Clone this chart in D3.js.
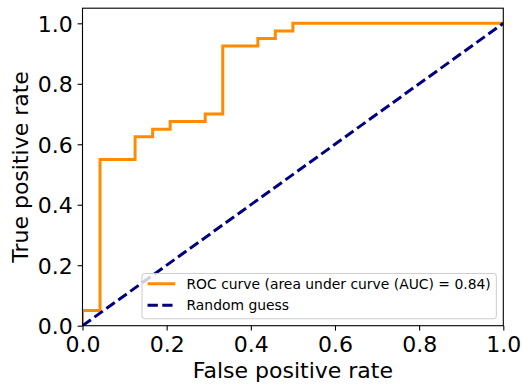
<!DOCTYPE html>
<html>
<head>
<meta charset="utf-8">
<script src="https://cdn.jsdelivr.net/npm/d3@7"></script>
<style>
  body { margin: 0; background: #fff; }
  svg { display: block; font-family: "DejaVu Sans", sans-serif; }
</style>
</head>
<body>
<svg id="chart"></svg>
<script>
// ROC curve points (step curve)
const fpr = [0, 0, 0.0417, 0.0417, 0.125, 0.125, 0.1667, 0.1667, 0.2083, 0.2083,
             0.2917, 0.2917, 0.3333, 0.3333, 0.4167, 0.4167, 0.4583, 0.4583, 0.5, 0.5, 1.0];
const tpr = [0, 0.05, 0.05, 0.55, 0.55, 0.625, 0.625, 0.65, 0.65, 0.675,
             0.675, 0.7, 0.7, 0.925, 0.925, 0.95, 0.95, 0.975, 0.975, 1.0, 1.0];
const guessX = [0, 1];
const guessY = [0, 1];
const ticks = [0, 0.2, 0.4, 0.6, 0.8, 1.0];

const width = 522;
const height = 388;
const margin = { top: 8.2, right: 18.7, bottom: 62.3, left: 82.5 };
const w = width - margin.left - margin.right;
const h = height - margin.top - margin.bottom;

// area under curve (trapezoids) for the legend text
let auc = 0;
for (let i = 1; i < fpr.length; i++) {
    auc += (fpr[i] - fpr[i - 1]) * (tpr[i] + tpr[i - 1]) / 2;
}

const svg = d3.select('#chart')
    .attr('width', width)
    .attr('height', height);

const g = svg.append('g')
    .attr('transform', `translate(${margin.left},${margin.top})`);

const xScale = d3.scaleLinear().domain([0, 1]).range([0, w]);
const yScale = d3.scaleLinear().domain([0, 1.05]).range([h, 0]);

g.append('clipPath').attr('id', 'clip')
    .append('rect').attr('width', w).attr('height', h);

const line = d3.line()
    .x(d => xScale(d[0]))
    .y(d => yScale(d[1]));

// lines
const plot = g.append('g').attr('clip-path', 'url(#clip)');
plot.append('path')
    .datum(fpr.map((v, i) => [v, tpr[i]]))
    .attr('d', line)
    .attr('fill', 'none')
    .attr('stroke', '#ff8c00')
    .attr('stroke-width', 3)
    .attr('stroke-linejoin', 'miter');
plot.append('path')
    .datum(guessX.map((v, i) => [v, guessY[i]]))
    .attr('d', line)
    .attr('fill', 'none')
    .attr('stroke', '#000080')
    .attr('stroke-width', 3)
    .attr('stroke-dasharray', '10.3,4.4');

// axes
const xAxis = d3.axisBottom(xScale).tickValues(ticks).tickFormat(d3.format('.1f'))
    .tickSize(4.9).tickPadding(4.9);
const yAxis = d3.axisLeft(yScale).tickValues(ticks).tickFormat(d3.format('.1f'))
    .tickSize(4.9).tickPadding(4.9);

const gx = g.append('g')
    .attr('transform', `translate(0,${h})`)
    .call(xAxis);
const gy = g.append('g')
    .call(yAxis);
[gx, gy].forEach(a => {
    a.select('.domain').remove();
    a.selectAll('line').attr('stroke', '#000').attr('stroke-width', 1.1);
    a.selectAll('text').attr('fill', '#000').style('font-size', '22px')
        .style('font-family', '"DejaVu Sans", sans-serif');
});
gy.selectAll('text').attr('dy', '0.36em');
gx.selectAll('text').attr('dy', '0.76em');

// frame
g.append('rect')
    .attr('width', w)
    .attr('height', h)
    .attr('fill', 'none')
    .attr('stroke', '#000')
    .attr('stroke-width', 1.1);

// axis labels
svg.append('text')
    .attr('x', margin.left + w / 2)
    .attr('y', 378)
    .attr('text-anchor', 'middle')
    .style('font-size', '22px')
    .text('False positive rate');
svg.append('text')
    .attr('transform', `translate(28,${margin.top + h / 2}) rotate(-90)`)
    .attr('text-anchor', 'middle')
    .style('font-size', '22px')
    .text('True positive rate');

// legend
const legendItems = [
    { label: `ROC curve (area under curve (AUC) = ${auc.toFixed(2)})`, color: '#ff8c00', dash: null },
    { label: 'Random guess', color: '#000080', dash: '10.3,4.4' }
];
const fs = 13.9;
const legend = g.append('g');
const texts = legend.selectAll('text')
    .data(legendItems)
    .join('text')
    .style('font-size', fs + 'px')
    .attr('dy', '0.36em')
    .text(d => d.label);
const textW = d3.max(texts.nodes(), n => n.getComputedTextLength());
const pad = 0.4 * fs, handleLen = 2 * fs, handlePad = 0.8 * fs, rowH = 21.4;
const boxW = pad + handleLen + handlePad + textW + pad;
const boxH = 45.3;
const bx = w - 0.5 * fs - boxW;
const by = h - 0.5 * fs - boxH;

legend.insert('rect', 'text')
    .attr('x', bx).attr('y', by)
    .attr('width', boxW).attr('height', boxH)
    .attr('rx', 2.8)
    .attr('fill', '#fff').attr('fill-opacity', 0.8)
    .attr('stroke', '#cccccc').attr('stroke-width', 1);
texts
    .attr('x', bx + pad + handleLen + handlePad)
    .attr('y', (d, i) => by + 10.3 + i * rowH);
legend.selectAll('line.handle')
    .data(legendItems)
    .join('line')
    .attr('class', 'handle')
    .attr('x1', bx + pad)
    .attr('x2', bx + pad + handleLen)
    .attr('y1', (d, i) => by + 10.3 + i * rowH)
    .attr('y2', (d, i) => by + 10.3 + i * rowH)
    .attr('stroke', d => d.color)
    .attr('stroke-width', 3)
    .attr('stroke-dasharray', d => d.dash);
</script>
</body>
</html>
